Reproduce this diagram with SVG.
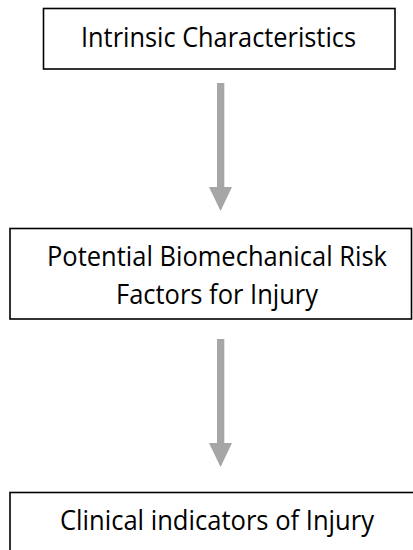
<svg xmlns="http://www.w3.org/2000/svg" width="413" height="550" viewBox="0 0 413 550">
<style>
.box{fill:#fff;stroke:#000;stroke-width:1.6}
.t{font-family:"Open Sans",Lato,"Liberation Sans",sans-serif;font-size:27px;fill:#000;text-anchor:middle;font-variant-ligatures:none}
.arr{fill:#a6a6a6}
</style>
<rect width="413" height="550" fill="#fff"/>
<g id="node-intrinsic">
<rect class="box" x="43.5" y="8.5" width="351.5" height="60.5"/>
<text class="t" x="218.5" y="47" textLength="275" lengthAdjust="spacingAndGlyphs">Intrinsic Characteristics</text>
</g>
<g id="node-biomech">
<rect class="box" x="10" y="228.5" width="401.5" height="90.5"/>
<text class="t" x="217" y="266" textLength="340" lengthAdjust="spacingAndGlyphs">Potential Biomechanical Risk</text>
<text class="t" x="217" y="303.5" textLength="202" lengthAdjust="spacingAndGlyphs">Factors for Injury</text>
</g>
<g id="node-clinical">
<rect class="box" x="10" y="492.5" width="420" height="80" stroke-width="2"/>
<text class="t" x="217" y="529.5" textLength="314" lengthAdjust="spacingAndGlyphs">Clinical indicators of Injury</text>
</g>
<g id="connectors">
<polygon class="arr" points="217,83 224.3,83 224.3,187 232,187 220.6,211 209,187 217,187"/>
<polygon class="arr" points="217,339 224.3,339 224.3,443 232,443 220.6,467 209,443 217,443"/>
</g>
</svg>
